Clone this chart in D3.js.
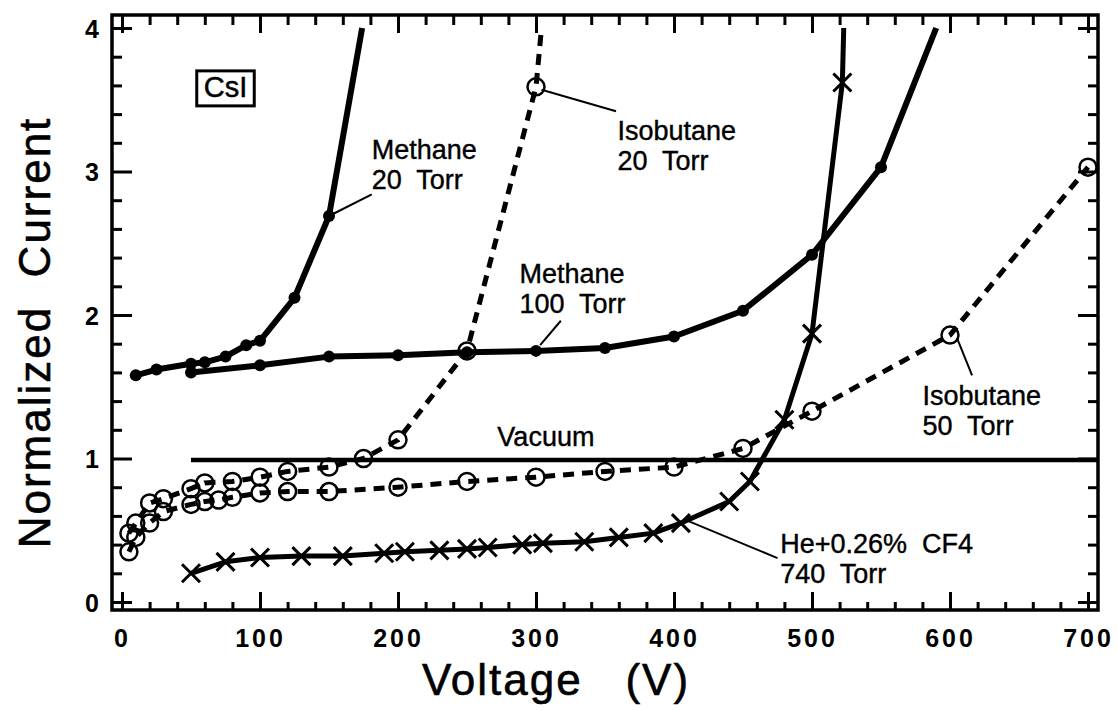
<!DOCTYPE html>
<html>
<head>
<meta charset="utf-8">
<script src="https://cdn.jsdelivr.net/npm/d3@7"></script>
<style>
  html, body { margin: 0; padding: 0; background: #fff; }
  svg { display: block; }
  text { font-family: "Liberation Sans", Arial, Helvetica, sans-serif; fill: #000; }
</style>
</head>
<body>
<svg id="chart" width="1118" height="710"></svg>
<script>
// Photocurrent of a CsI photocathode vs. applied voltage, normalized to vacuum.
// Each series: [voltage (V), normalized current]. The "Tail" points mark where
// a curve leaves the top of the frame (no marker drawn there).
const methane20 = [[10,1.58],[25,1.62],[50,1.66],[60,1.67],[75,1.71],[90,1.79],[100,1.82],[125,2.12],[150,2.69]];
const methane20Tail = [174, 4.0];
const methane100 = [[50,1.60],[100,1.65],[150,1.71],[200,1.72],[250,1.74],[300,1.75],[350,1.77],[400,1.85],[450,2.03],[500,2.42],[550,3.03]];
const methane100Tail = [590, 4.0];
const isobutane20 = [[5,0.48],[10,0.55],[20,0.69],[30,0.72],[50,0.79],[60,0.83],[80,0.84],[100,0.87],[120,0.91],[150,0.94],[175,1.0],[200,1.13],[250,1.75],[300,3.59]];
const isobutane20Tail = [304, 4.0];
const isobutane50 = [[5,0.35],[10,0.45],[20,0.55],[30,0.63],[50,0.68],[60,0.70],[70,0.71],[80,0.73],[100,0.76],[120,0.77],[150,0.77],[200,0.80],[250,0.84],[300,0.87],[350,0.91],[400,0.94],[450,1.07],[500,1.33],[600,1.86],[700,3.03]];
const heCF4 = [[50,0.20],[75,0.28],[100,0.31],[130,0.32],[160,0.32],[190,0.34],[205,0.35],[230,0.36],[250,0.37],[265,0.38],[290,0.40],[305,0.41],[335,0.42],[360,0.45],[385,0.48],[405,0.55],[440,0.70],[455,0.84],[480,1.27],[500,1.87],[522,3.62]];
const heCF4Tail = [523, 4.0];
const vacuum = [[50,0.99],[707,0.99]];

const xTicksMajor = [0,100,200,300,400,500,600,700];
const yTicksMajor = [0,1,2,3,4];
const xTickLabels = ["0","100","200","300","400","500","600","700"];
const yTickLabels = ["0","1","2","3","4"];

// Curve labels: text lines anchored in data space, with a leader from the curve.
const labels = [
  { lines: ["Methane", "20  Torr"], at: [181, 3.09], leader: [[150, 2.69], [181, 2.84]] },
  { lines: ["Isobutane", "20  Torr"], at: [359, 3.22], leader: [[304, 3.57], [358, 3.42]] },
  { lines: ["Methane", "100  Torr"], at: [288, 2.22], leader: [[303, 1.79], [318, 1.96]] },
  { lines: ["Vacuum"], at: [272, 1.085], leader: null },
  { lines: ["Isobutane", "50  Torr"], at: [580, 1.372], leader: [[605, 1.84], [616, 1.58]] },
  { lines: ["He+0.26%  CF4", "740  Torr"], at: [477, 0.341], leader: [[407, 0.578], [475, 0.306]] }
];
const boxLabel = { text: "CsI", at: [75, 3.52] };

const svg = d3.select("#chart");
const plot = { left: 112, right: 1098, top: 15, bottom: 610 };

const x = d3.scaleLinear().domain([-7.25, 707.25]).range([plot.left, plot.right]);
const y = d3.scaleLinear().domain([-0.0557, 4.0906]).range([plot.bottom, plot.top]);

const g = svg.append("g");

// Clip curves to the frame
svg.append("defs").append("clipPath").attr("id", "frame")
  .append("rect").attr("x", plot.left).attr("y", plot.top)
  .attr("width", plot.right - plot.left).attr("height", plot.bottom - plot.top);

// ---- Axes: ticks on all four sides, pointing inward ----
const xMinor = d3.range(0, 701, 20).filter(v => v % 100 !== 0);
const yMinor = d3.range(0, 4.01, 0.2).map(v => +v.toFixed(1)).filter(v => Math.abs(v - Math.round(v)) > 1e-6);

function tickAxis(axisGen, transform, major, minor, majorLen, minorLen, labelsFmt) {
  const a1 = g.append("g").attr("transform", transform)
    .call(axisGen.tickValues(major).tickSize(majorLen).tickFormat(labelsFmt));
  const a2 = g.append("g").attr("transform", transform)
    .call(axisGen.tickValues(minor).tickSize(minorLen).tickFormat(""));
  [a1, a2].forEach(a => {
    a.select(".domain").remove();
    a.selectAll(".tick line").attr("stroke", "#000").attr("stroke-width", 3);
  });
  return a1;
}

const fmtX = d => xTickLabels[xTicksMajor.indexOf(d)];
const fmtY = d => yTickLabels[yTicksMajor.indexOf(d)];

// bottom (labels)
const bottomAx = tickAxis(d3.axisTop(x), `translate(0,${plot.bottom})`, xTicksMajor, xMinor, 18, 8, fmtX);
bottomAx.selectAll(".tick text")
  .attr("y", 37).attr("dy", 0)
  .style("font-size", "25px").style("font-weight", "bold")
  .style("letter-spacing", "3px");
// top
tickAxis(d3.axisBottom(x), `translate(0,${plot.top})`, xTicksMajor, xMinor, 18, 10, () => "");
// left (labels)
const leftAx = tickAxis(d3.axisRight(y), `translate(${plot.left},0)`, yTicksMajor, yMinor, 20, 10, fmtY);
leftAx.selectAll(".tick text")
  .attr("x", -13).attr("dy", "0.36em").attr("text-anchor", "end")
  .style("font-size", "25px").style("font-weight", "bold");
// right
tickAxis(d3.axisLeft(y), `translate(${plot.right},0)`, yTicksMajor, yMinor, 20, 10, () => "");

// frame
g.append("rect")
  .attr("x", plot.left).attr("y", plot.top)
  .attr("width", plot.right - plot.left).attr("height", plot.bottom - plot.top)
  .attr("fill", "none").attr("stroke", "#000").attr("stroke-width", 3.5);

// ---- Curves ----
const line = d3.line().x(d => x(d[0])).y(d => y(d[1]));
const curves = g.append("g").attr("clip-path", "url(#frame)");

function drawCurve(data, dashed, width) {
  curves.append("path").datum(data).attr("d", line)
    .attr("fill", "none").attr("stroke", "#000")
    .attr("stroke-width", width)
    .attr("stroke-linejoin", "round")
    .attr("stroke-dasharray", dashed ? "11,8" : null);
}

drawCurve(vacuum, false, 4.5);
drawCurve(isobutane50, true, 5);
drawCurve(isobutane20.concat([isobutane20Tail]), true, 5);
drawCurve(heCF4.concat([heCF4Tail]), false, 5);
drawCurve(methane100.concat([methane100Tail]), false, 6);
drawCurve(methane20.concat([methane20Tail]), false, 6);

// ---- Markers ----
function circles(data) {
  curves.append("g").selectAll("circle").data(data).join("circle")
    .attr("cx", d => x(d[0])).attr("cy", d => y(d[1])).attr("r", 8.5)
    .attr("fill", "none").attr("stroke", "#000").attr("stroke-width", 2.5);
}
function dots(data) {
  curves.append("g").selectAll("circle").data(data).join("circle")
    .attr("cx", d => x(d[0])).attr("cy", d => y(d[1])).attr("r", 6)
    .attr("fill", "#000");
}
function crosses(data) {
  const s = 9;
  curves.append("g").selectAll("path").data(data).join("path")
    .attr("d", d => {
      const cx = x(d[0]), cy = y(d[1]);
      return `M${cx - s},${cy - s}L${cx + s},${cy + s}M${cx - s},${cy + s}L${cx + s},${cy - s}`;
    })
    .attr("stroke", "#000").attr("stroke-width", 3).attr("fill", "none");
}

circles(isobutane50);
circles(isobutane20);
crosses(heCF4);
dots(methane100);
dots(methane20);

// ---- Annotations ----
const ann = g.append("g");
labels.forEach(l => {
  if (l.leader) {
    ann.append("line")
      .attr("x1", x(l.leader[0][0])).attr("y1", y(l.leader[0][1]))
      .attr("x2", x(l.leader[1][0])).attr("y2", y(l.leader[1][1]))
      .attr("stroke", "#000").attr("stroke-width", 2);
  }
  const t = ann.append("text")
    .attr("x", x(l.at[0])).attr("y", y(l.at[1]))
    .style("font-size", "27px").style("white-space", "pre")
    .style("stroke", "#000").style("stroke-width", "0.4px");
  l.lines.forEach((s, i) => {
    t.append("tspan").attr("x", x(l.at[0])).attr("dy", i === 0 ? 0 : 30).text(s);
  });
});

// CsI box
const bt = ann.append("text")
  .attr("x", x(boxLabel.at[0])).attr("y", y(boxLabel.at[1]))
  .attr("text-anchor", "middle").style("font-size", "29px")
  .style("stroke", "#000").style("stroke-width", "0.5px")
  .text(boxLabel.text);
const bb = bt.node().getBBox();
ann.append("rect")
  .attr("x", bb.x - 7).attr("y", bb.y)
  .attr("width", bb.width + 14).attr("height", bb.height + 3)
  .attr("fill", "none").attr("stroke", "#000").attr("stroke-width", 3);

// ---- Axis titles ----
svg.append("text")
  .attr("transform", `translate(50,${(plot.top + plot.bottom) / 2 + 20}) rotate(-90)`)
  .attr("text-anchor", "middle")
  .style("font-size", "44px").style("letter-spacing", "2px").style("white-space", "pre")
  .style("stroke", "#000").style("stroke-width", "0.6px")
  .text("Normalized  Current");

svg.append("text")
  .attr("x", 556).attr("y", 695)
  .attr("text-anchor", "middle")
  .style("font-size", "44px").style("letter-spacing", "2px").style("white-space", "pre")
  .style("stroke", "#000").style("stroke-width", "0.6px")
  .text("Voltage   (V)");
</script>
</body>
</html>
